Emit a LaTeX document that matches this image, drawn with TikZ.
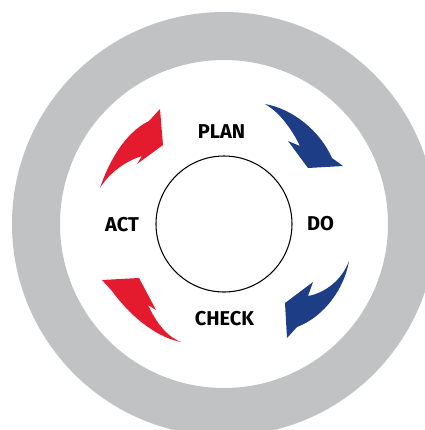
\documentclass[tikz,border=0pt]{standalone}
\usepackage{fontspec}
\setmainfont{Fira Sans}
\definecolor{ringgray}{RGB}{192,194,196}
\definecolor{actred}{RGB}{228,27,46}
\definecolor{doblue}{RGB}{29,61,134}

\begin{document}
\begin{tikzpicture}[x=0.75pt,y=-0.75pt,
        stage/.style={font=\bfseries\fontsize{15}{15}\selectfont,inner sep=0pt}]
                \clip (0,0) rectangle (425,430);
                \fill[white] (0,0) rectangle (425,430);
                \fill[ringgray,even odd rule] (224,224) circle (212) (224,224) circle (164);
                \node[draw,circle,line width=0.8pt,minimum size=102pt,inner sep=0pt] (hub) at (224,224) {};
                \fill[actred] (100,188) .. controls (108,164) and (124,133) .. (149,121) -- (160,109) -- (163,145) -- (137,164) -- (142,156) .. controls (126,161) and (110,172) .. (100,188) -- cycle;
                \fill[doblue] (265,104) .. controls (293,109) and (320,131) .. (332,158) -- (343,166) -- (308,168) -- (288,141) -- (300,146) .. controls (293,132) and (282,114) .. (265,104) -- cycle;
                \fill[doblue] (349,261) .. controls (345,286) and (326,316) .. (297,327) -- (287,338) -- (285,303) -- (313,282) -- (308,296) .. controls (325,293) and (342,280) .. (349,261) -- cycle;
                \fill[actred] (181,342) .. controls (160,338) and (134,321) .. (112,291) -- (102,280) -- (139,278) -- (156,310) -- (148,305) .. controls (156,322) and (166,336) .. (181,342) -- cycle;
                \node[stage] (plan) at (221.5,131.5) {PLAN};
                \node[stage] (do) at (320.5,223.5) {DO};
                \node[stage] (check) at (224.5,319) {CHECK};
                \node[stage] (act) at (122,225) {ACT};
            \end{tikzpicture}
\end{document}
